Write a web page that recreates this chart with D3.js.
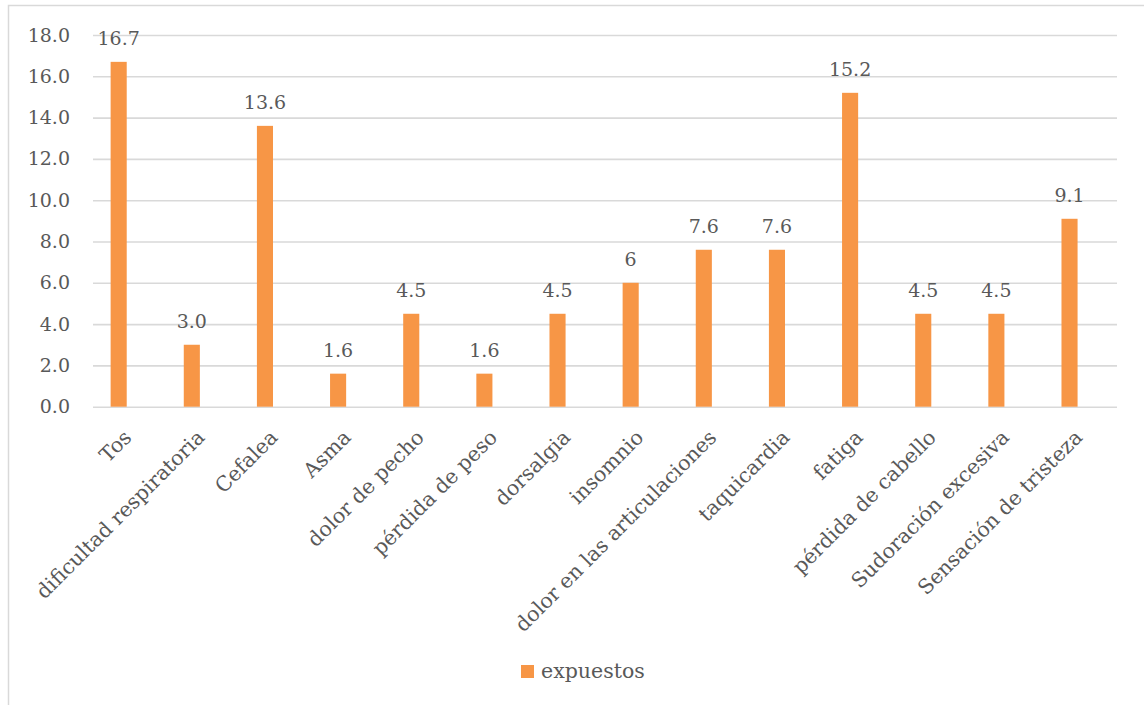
<!DOCTYPE html>
<html>
<head>
<meta charset="utf-8">
<script src="https://cdn.jsdelivr.net/npm/d3@7"></script>
<style>
  html, body { margin: 0; padding: 0; background: #ffffff; overflow: hidden; }
  svg { display: block; }
  text { font-family: "DejaVu Serif", "Liberation Serif", serif; fill: #595959; }
</style>
</head>
<body>
<svg id="chart" width="1144" height="705"></svg>
<script>
// Symptom categories and the share reported by the exposed group
const categories = [
  "Tos", "dificultad respiratoria", "Cefalea", "Asma", "dolor de pecho",
  "pérdida de peso", "dorsalgia", "insomnio", "dolor en las articulaciones",
  "taquicardia", "fatiga", "pérdida de cabello", "Sudoración excesiva",
  "Sensación de tristeza"
];
const values = [16.7, 3.0, 13.6, 1.6, 4.5, 1.6, 4.5, 6, 7.6, 7.6, 15.2, 4.5, 4.5, 9.1];
const valueLabels = ["16.7", "3.0", "13.6", "1.6", "4.5", "1.6", "4.5", "6", "7.6", "7.6", "15.2", "4.5", "4.5", "9.1"];
const yTickValues = [0, 2, 4, 6, 8, 10, 12, 14, 16, 18];
const seriesName = "expuestos";

const barColor = "#f79646";
const gridColor = "#d9d9d9";
const numberSize = 19;
const labelSize = 20.5;

const svg = d3.select("#chart");

// Chart frame (only its top and left edges fall inside the view)
svg.append("rect")
  .attr("x", 8.5).attr("y", 5.5)
  .attr("width", 1200).attr("height", 760)
  .attr("fill", "none")
  .attr("stroke", gridColor)
  .attr("stroke-width", 1.5);

const gridLeft = 93, gridRight = 1117;
const y = d3.scaleLinear().domain([0, 18]).range([406.7, 35]);
const x = d3.scaleBand()
  .domain(categories)
  .range([82.1, 1106.1])
  .paddingInner(0.78)
  .paddingOuter(0.39);

// Horizontal gridlines
const grid = svg.append("g")
  .attr("transform", `translate(${gridLeft},0)`)
  .call(d3.axisRight(y).tickValues(yTickValues).tickSize(gridRight - gridLeft).tickFormat(""));
grid.select(".domain").remove();
grid.selectAll("line").attr("stroke", gridColor).attr("stroke-width", 1.6);

// Y tick labels
const yAxis = svg.append("g")
  .attr("transform", `translate(${gridLeft},0)`)
  .call(d3.axisLeft(y).tickValues(yTickValues).tickSize(0).tickPadding(23).tickFormat(d3.format(".1f")));
yAxis.select(".domain").remove();
yAxis.selectAll("text")
  .style("font-family", "'DejaVu Serif', serif")
  .style("font-size", numberSize + "px")
  .attr("fill", "#595959");

// Bars
svg.append("g").selectAll("rect")
  .data(values)
  .join("rect")
  .attr("x", (d, i) => x(categories[i]))
  .attr("width", x.bandwidth())
  .attr("y", d => y(d))
  .attr("height", d => y(0) - y(d))
  .attr("fill", barColor);

// Value labels above the bars
svg.append("g").selectAll("text")
  .data(values)
  .join("text")
  .attr("x", (d, i) => x(categories[i]) + x.bandwidth() / 2)
  .attr("y", d => y(d) - 17)
  .attr("text-anchor", "middle")
  .style("font-size", numberSize + "px")
  .text((d, i) => valueLabels[i]);

// Category axis with rotated labels
const xAxis = svg.append("g")
  .attr("transform", `translate(0,${y(0)})`)
  .call(d3.axisBottom(x).tickSize(0));
xAxis.select(".domain").remove();
xAxis.selectAll("text")
  .attr("x", 0).attr("y", 0).attr("dy", 0)
  .attr("text-anchor", "end")
  .attr("transform", "translate(14,32) rotate(-45)")
  .style("font-family", "'DejaVu Serif', serif")
  .style("font-size", labelSize + "px")
  .attr("fill", "#595959");

// Legend
const legend = svg.append("g");
legend.append("rect")
  .attr("x", 521).attr("y", 665)
  .attr("width", 13).attr("height", 13)
  .attr("fill", barColor);
legend.append("text")
  .attr("x", 541).attr("y", 678)
  .style("font-size", labelSize + "px")
  .text(seriesName);
</script>
</body>
</html>
